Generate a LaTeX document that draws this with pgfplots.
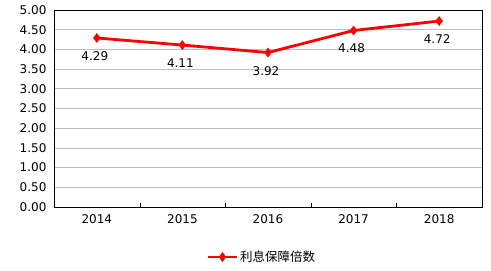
\documentclass[border=0pt]{standalone}
\usepackage{fontspec}
\setmainfont{DejaVu Sans}
\newfontfamily\cjk{Noto Sans CJK SC}
\usepackage{pgfplots}
\pgfplotsset{compat=1.18}
\begin{document}
\begin{tikzpicture}
\begin{axis}[
  scale only axis,
  width=428pt, height=197pt,
  xmin=-0.5, xmax=4.5,
  ymin=0, ymax=5,
  xtick={0,1,2,3,4},
  xticklabels={2014,2015,2016,2017,2018},
  minor xtick={0.5,1.5,2.5,3.5},
  major x tick style={draw=none},
  minor x tick style={black},
  minor tick length=4pt,
  xtick pos=bottom,
  ytick={0,0.5,...,5},
  yticklabel style={/pgf/number format/fixed,/pgf/number format/fixed zerofill,/pgf/number format/precision=2, xshift=-4pt},
  ytick style={draw=none},
  ymajorgrids,
  grid style={color=black!25, line width=0.8pt},
  axis line style={black, line width=0.8pt},
  tick label style={font=\fontsize{12}{14}\selectfont},
  /pgf/number format/assume math mode=true,
  xticklabel style={yshift=-4pt},
  legend style={at={(0.486,-0.254)}, anchor=center, draw=none, fill=none,
    font=\cjk\fontsize{12.5}{14}\selectfont},
  legend image code/.code={\draw[mark repeat=2,mark phase=2] plot coordinates {(0cm,0cm) (0.5cm,0cm) (1cm,0cm)};},
  nodes near coords,
  nodes near coords style={font=\fontsize{12}{14}\selectfont, anchor=north, yshift=-10pt, xshift=-2pt, text=black,
    /pgf/number format/fixed, /pgf/number format/fixed zerofill, /pgf/number format/precision=2},
]
\addplot[color=red, line width=2.8pt, mark=diamond*, mark size=4.5pt, mark options={line width=0.5pt}]
  coordinates {(0,4.29) (1,4.11) (2,3.92) (3,4.48) (4,4.72)};
\addlegendentry{利息保障倍数}
\end{axis}
\pgfresetboundingbox
\useasboundingbox ([shift={(-54pt,-63pt)}]current axis.south west) rectangle ([shift={(9pt,10pt)}]current axis.north east);
\end{tikzpicture}
\end{document}
